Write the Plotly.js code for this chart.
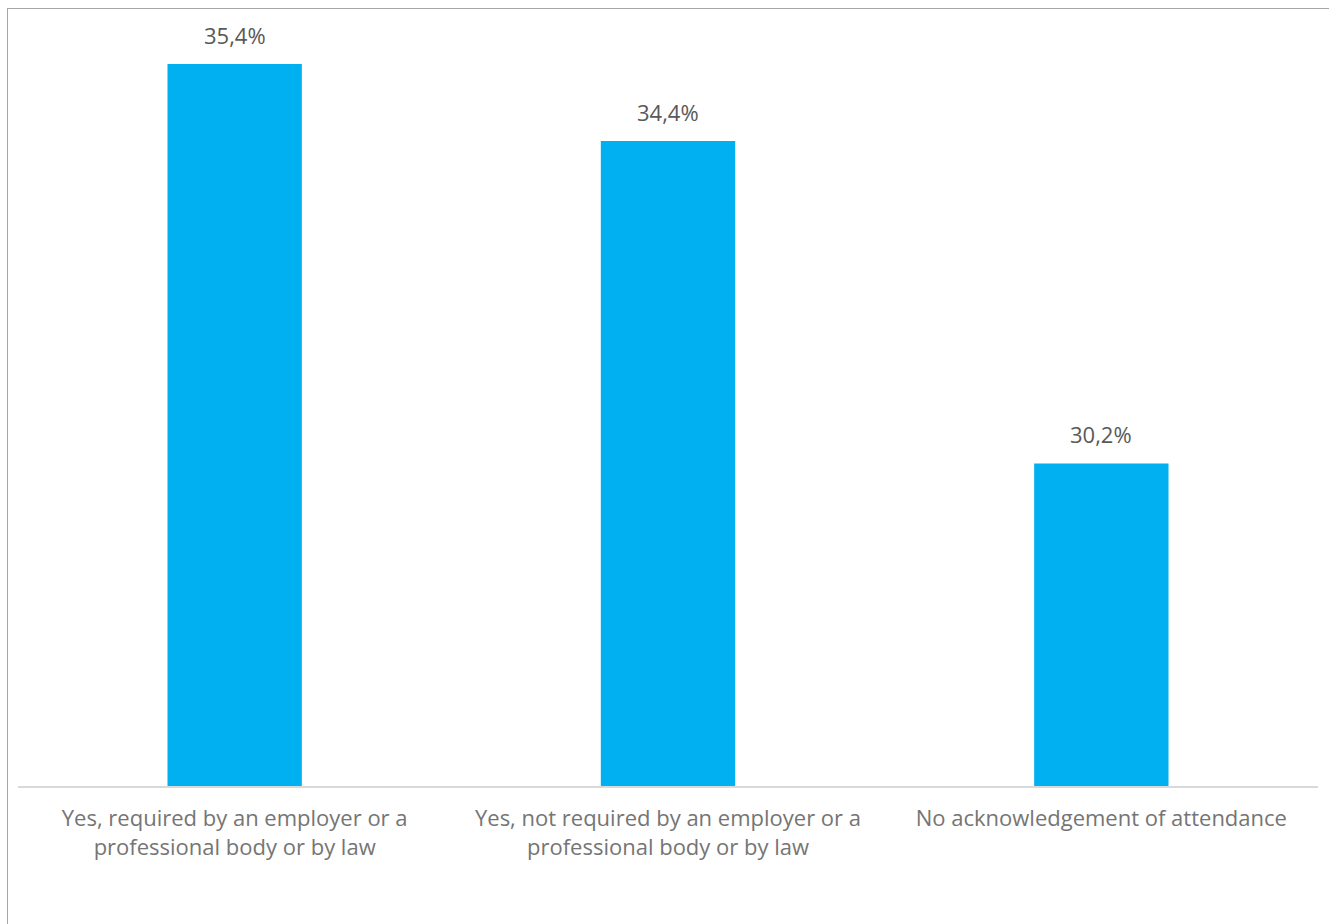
<!DOCTYPE html>
<html>
<head>
<meta charset="utf-8">
<script src="https://cdn.plot.ly/plotly-3.0.1.min.js"></script>
<style>
  html, body { margin: 0; padding: 0; background: #fff; }
  #wrap { position: relative; width: 1329px; height: 924px; overflow: hidden; }
  #frame { position: absolute; left: 7px; top: 8px; width: 1400px; height: 1000px;
           border-left: 1px solid #a6a6a6; border-top: 1px solid #a6a6a6; pointer-events: none; }
  #chart { position: absolute; left: 0; top: 0; width: 1329px; height: 924px; }
</style>
</head>
<body>
<div id="wrap">
  <div id="chart"></div>
  <div id="frame"></div>
</div>
<script>
const categories = [
  "Yes, required by an employer or a<br>professional body or by law",
  "Yes, not required by an employer or a<br>professional body or by law",
  "No acknowledgement of attendance"
];
const values = [35.4, 34.4, 30.2];
const valueLabels = ["35,4%", "34,4%", "30,2%"];

const trace = {
  type: 'bar',
  x: categories,
  y: values,
  marker: { color: '#00B0F0' },
  width: 0.31,
  hoverinfo: 'none'
};

const annotations = categories.map((c, i) => ({
  x: c, y: values[i], xref: 'x', yref: 'y',
  text: valueLabels[i], showarrow: false,
  yanchor: 'bottom', yshift: 12,
  font: { family: 'Open Sans, sans-serif', size: 22, color: '#595959' }
}));

const layout = {
  width: 1329, height: 924,
  margin: { l: 18, r: 11, t: 18, b: 138 },
  paper_bgcolor: 'rgba(0,0,0,0)',
  plot_bgcolor: '#fff',
  showlegend: false,
  xaxis: {
    type: 'category',
    showline: true, linecolor: '#d9d9d9', linewidth: 2,
    ticks: '', showgrid: false, zeroline: false,
    tickfont: { family: 'Open Sans, sans-serif', size: 22, color: '#757575' },
    ticklabelstandoff: 12
  },
  yaxis: {
    range: [26, 36], visible: false, showgrid: false, zeroline: false
  },
  annotations: annotations
};

Plotly.newPlot('chart', [trace], layout, { displayModeBar: false, staticPlot: true });
</script>
</body>
</html>
